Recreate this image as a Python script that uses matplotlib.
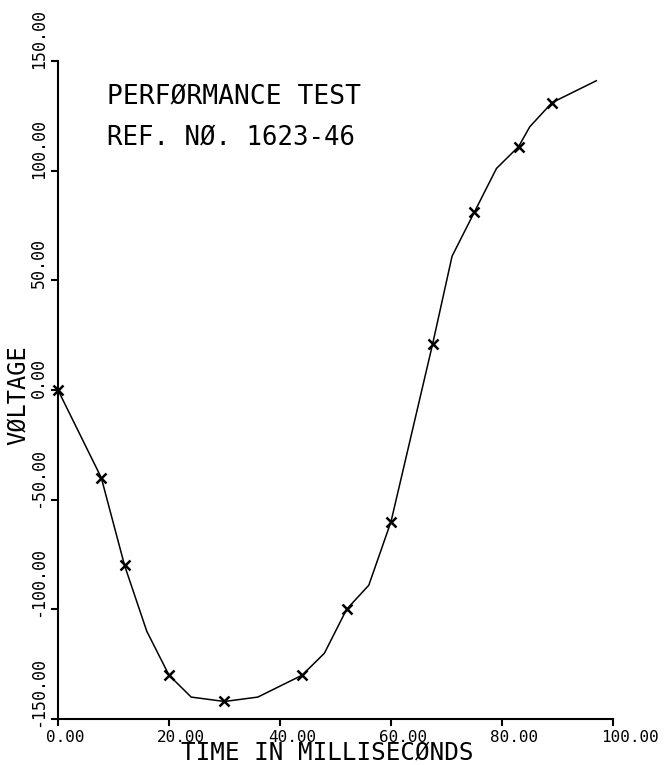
import matplotlib.pyplot as plt
import matplotlib.transforms as mtransforms

# Data
time_ms = [0, 7.8, 12, 16, 20, 24, 30, 36, 44, 48, 52, 56, 60, 67.5, 71, 75, 79, 83, 85, 89, 97]
voltage = [0, -40, -80, -110, -130, -140, -142, -140, -130, -120, -100, -89, -60, 21, 61, 81, 101, 111, 120, 131, 141]
# which of the points above carry an "x" marker
marked = [0, 1, 2, 4, 6, 8, 10, 12, 13, 15, 17, 19]

x_ticks = [0, 20, 40, 60, 80, 100]
y_ticks = [-150, -100, -50, 0, 50, 100, 150]
x_tick_labels = ['0.00', '20.00', '40.00', '60.00', '80.00', '100.00']
y_tick_labels = ['-150.00', '-100.00', '-50.00', '0.00', '50.00', '100.00', '150.00']

title = 'PERFØRMANCE TEST'
subtitle = 'REF. NØ. 1623-46'
x_label = 'TIME IN MILLISECØNDS'
y_label = 'VØLTAGE'

FONT = 'DejaVu Sans Mono'

fig = plt.figure(figsize=(6.68, 7.65), dpi=100)
ax = fig.add_axes([0.0868, 0.0601, 0.8309, 0.8602])

ax.plot(time_ms, voltage, color='black', linewidth=1.1, clip_on=False)
ax.plot([time_ms[i] for i in marked], [voltage[i] for i in marked],
        linestyle='none', marker='x', markersize=7, markeredgewidth=1.8,
        color='black', clip_on=False)

ax.set_xlim(0, 100)
ax.set_ylim(-150, 150)

# plotter style axes: only left and bottom lines
for side in ['top', 'right']:
    ax.spines[side].set_visible(False)
for side in ['left', 'bottom']:
    ax.spines[side].set_linewidth(1.5)

ax.set_xticks(x_ticks)
ax.set_yticks(y_ticks)
ax.set_xticklabels(x_tick_labels, family=FONT, fontsize=11.5, ha='left')
ax.set_yticklabels(y_tick_labels, family=FONT, fontsize=12, rotation=90, va='bottom')
ax.tick_params(direction='out', length=5, width=1.5)
ax.tick_params(axis='x', pad=3)
ax.tick_params(axis='y', pad=2.5)

# labels sit a little off their ticks, like the plotter drew them
x_shift = mtransforms.ScaledTranslation(-12 / 100, 0, fig.dpi_scale_trans)
y_shift = mtransforms.ScaledTranslation(0, -8 / 100, fig.dpi_scale_trans)
for lab in ax.get_xticklabels():
    lab.set_transform(lab.get_transform() + x_shift)
for lab in ax.get_yticklabels():
    lab.set_transform(lab.get_transform() + y_shift)

ax.set_xlabel(x_label, family=FONT, fontsize=17.5, va='baseline')
ax.xaxis.set_label_coords(0.485, -0.0615)
ax.set_ylabel(y_label, family=FONT, fontsize=17)
ax.yaxis.set_label_coords(-0.05, 0.492)

ax.text(8.8, 130, title, family=FONT, fontsize=19, va='baseline', ha='left')
ax.text(8.8, 111.5, subtitle, family=FONT, fontsize=18.5, va='baseline', ha='left')

fig.savefig('out.png', dpi=100, facecolor='white')
plt.close(fig)
